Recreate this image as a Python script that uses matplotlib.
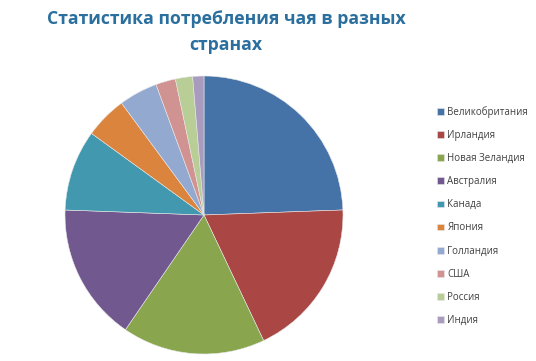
import matplotlib
matplotlib.use('Agg')
import matplotlib.pyplot as plt

# Данные
страны = ['Великобритания', 'Ирландия', 'Новая Зеландия', 'Австралия', 'Канада',
          'Япония', 'Голландия', 'США', 'Россия', 'Индия']
доли = [24.4, 18.5, 16.6, 16.0, 9.4, 4.9, 4.5, 2.3, 2.0, 1.3]
цвета = ['#4572A7', '#AA4643', '#89A54E', '#71588F', '#4198AF',
         '#DB843D', '#93A9CF', '#D19392', '#B9CD96', '#A99BBD']

plt.rcParams['font.family'] = ['Open Sans', 'DejaVu Sans']

fig = plt.figure(figsize=(5.36, 3.61), dpi=100)
ax = fig.add_axes([65/536, 7/361, 278/536, 278/361])
wedges, _ = ax.pie(доли, colors=цвета, startangle=90, counterclock=False,
                   wedgeprops=dict(edgecolor='#e8e8e8', linewidth=0.4))
ax.set_xlim(-1, 1)
ax.set_ylim(-1, 1)
ax.set_aspect('equal')

fig.text(226/536, 1 - 32/361, 'Статистика потребления чая в разных\nстранах',
         ha='center', va='center', fontsize=12.7, fontweight='bold',
         color='#2A6F9E', linespacing=1.6)

fig.legend(wedges, страны, loc='center left', bbox_to_anchor=(428/536, 1 - 216/361),
           frameon=False, fontsize=7, labelspacing=1.25, handlelength=0.7,
           handleheight=0.7, handletextpad=0.4, labelcolor='#404040')

fig.savefig('out.png', dpi=100)
